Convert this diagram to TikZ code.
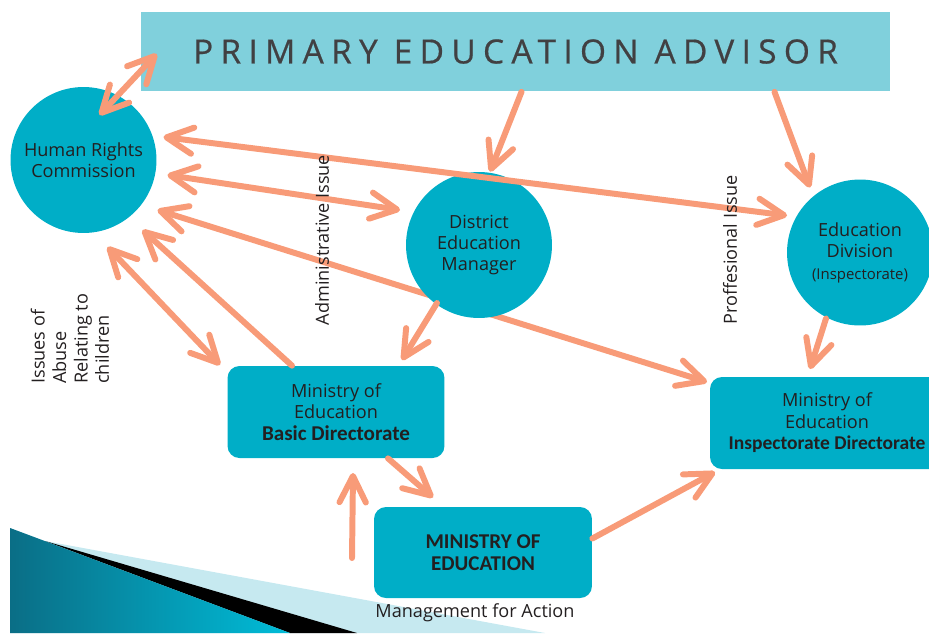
\documentclass[tikz,border=0pt]{standalone}
\usepackage{fontspec}
\setmainfont{Open Sans}
\newfontfamily\calibri{Carlito}
\newfontfamily\titlefont[LetterSpace=22,FakeBold=0.6]{Open Sans}
\usetikzlibrary{arrows.meta,calc,backgrounds}

\definecolor{advisorc}{HTML}{80D0DC}
\definecolor{officec}{HTML}{00AEC7}
\definecolor{arrowc}{HTML}{F89B78}
\definecolor{ink}{HTML}{231F20}
\definecolor{titleink}{HTML}{414042}
\definecolor{wedgedark}{HTML}{0A6E86}
\definecolor{wedgelight}{HTML}{00BCD8}
\definecolor{wedgepale}{HTML}{C6E9F0}

\begin{document}
\begin{tikzpicture}[x=0.02cm,y=-0.02cm]
				\tikzstyle{office}=[circle,fill=officec,text=ink,align=center,inner sep=0pt,minimum size=2.92cm,font=\fontsize{10.3}{12.2}\selectfont]
				\tikzstyle{desk}=[rectangle,rounded corners=6.8pt,fill=officec,text=ink,align=center,inner sep=0pt,minimum width=4.34cm,minimum height=1.84cm,font=\fontsize{10.3}{12.2}\selectfont]
				\tikzstyle{lbl}=[text=ink,inner sep=0pt,font=\fontsize{10.3}{12.2}\selectfont]
				\tikzstyle{link}=[draw=arrowc,line width=3.4pt,line cap=round]
				\tikzstyle{oneway}=[-{Straight Barb[length=15pt,width=15pt,round]}]
				\tikzstyle{twoway}=[{Straight Barb[length=15pt,width=15pt,round]}-{Straight Barb[length=15pt,width=15pt,round]}]
				\useasboundingbox (0,0) rectangle (929,633);
				\clip (0,0) rectangle (929,633);
				% corner wedge
				\fill[wedgepale] (10,528) -- (45,541) -- (545,633) -- (10,633) -- cycle;
				\fill[black] (45,541) -- (357,633) -- (290,633) -- cycle;
				\shade[left color=wedgedark,right color=wedgelight] (10,528) -- (290,633) -- (10,633) -- cycle;
				% offices
				\node[rectangle,fill=advisorc,minimum width=14.98cm,minimum height=1.6cm,text=titleink](title) at (515.5,51.5) {\titlefont\fontsize{19}{22}\selectfont PRIMARY EDUCATION ADVISOR};
				\node[office](hrc) at (83.5,160) {Human Rights\\Commission};
				\node[office](dem) at (479,245) {District\\Education\\Manager};
				\node[office](edu) at (860,252.5) {Education\\Division\\{\fontsize{8.5}{10}\selectfont(Inspectorate)}};
				\node[desk](basic) at (336,412) {Ministry of\\Education\\{\calibri\bfseries\fontsize{12}{12.2}\selectfont Basic Directorate}};
				\node[desk,minimum width=4.68cm](insp) at (827,423) {Ministry of\\Education\\{\calibri\bfseries\fontsize{11.1}{12.2}\selectfont Inspectorate Directorate}};
				\node[desk,minimum width=4.36cm,minimum height=1.82cm,font=\calibri\bfseries\fontsize{12}{12.4}\selectfont](moe) at (483,552.5) {MINISTRY OF\\EDUCATION};
				\coordinate (act) at (352,558);
				% links
				\begin{pgfonlayer}{background}
				\draw[link,twoway] ($(hrc)+(74,50)$) -- ($(insp)+(-120,-41)$);
				\end{pgfonlayer}
				\draw[link,twoway] ($(title.south west)+(16,-38)$) -- ($(hrc)+(16,-45)$);
				\draw[link,oneway] ($(title.south)+(6,0)$) -- ($(dem.north)+(11,0)$);
				\draw[link,oneway] ($(title.south)+(259,0)$) -- ($(edu)+(-50,-65)$);
				\draw[link,twoway] ($(hrc)+(80,-23)$) -- ($(edu)+(-73,-37)$);
				\draw[link,twoway] ($(hrc)+(84,15)$) -- ($(dem)+(-79,-35)$);
				\draw[link,twoway] ($(hrc)+(24,87)$) -- ($(basic)+(-116,-47)$);
				\draw[link,oneway] ($(basic.north)+(-44,0)$) -- ($(hrc)+(59,70)$);
				\draw[link,oneway] ($(dem)+(-42,58)$) -- ($(basic)+(66,-52)$);
				\draw[link,oneway] ($(edu)+(-34,66)$) -- ($(insp)+(-17,-54)$);
				\draw[link,oneway] ($(basic.south)+(52,0)$) -- ($(moe)+(-50,-55)$);
				\draw[link,oneway] (act) -- ($(basic)+(17,61)$);
				\draw[link,oneway] ($(moe.east)+(0,-14)$) -- ($(insp)+(-112,49)$);
				% labels
				\node[lbl,rotate=90](admin) at (322,240) {Administrative Issue};
				\node[lbl,rotate=90](prof) at (730,250) {Proffesional Issue};
				\node[lbl,rotate=90,align=left,anchor=west](abuse) at (70,384) {Issues of\\Abuse\\Relating to\\children};
				\node[lbl](action) at (475,613) {Management for Action};
			\end{tikzpicture}
\end{document}
